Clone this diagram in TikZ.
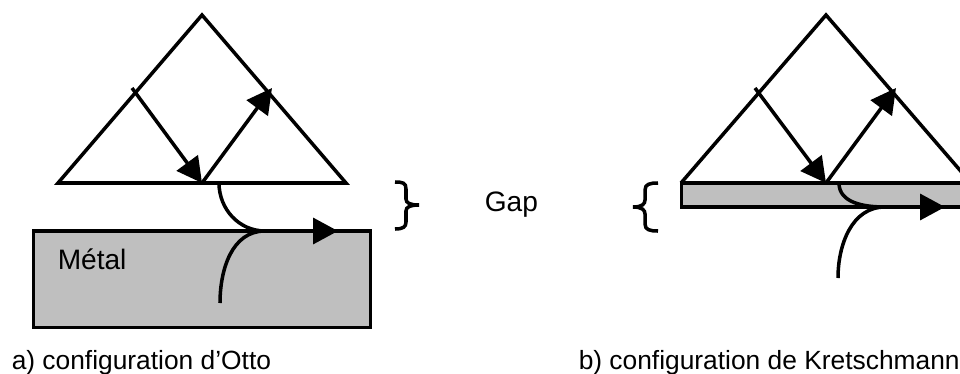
\documentclass[tikz,border=0pt]{standalone}
\usepackage{fontspec}
\setmainfont{Liberation Sans}
\usetikzlibrary{arrows.meta}

\definecolor{metalgray}{RGB}{191,191,191}

\begin{document}
\begin{tikzpicture}[x=0.02cm,y=0.02cm,line width=2pt,
        >={Triangle[length=0.5cm,width=0.52cm]},
        label/.style={anchor=base west,inner sep=0pt,font=\fontsize{16}{19}\selectfont},
        caption/.style={label,font=\fontsize{15}{18}\selectfont},
        layer/.style={draw,fill=metalgray,anchor=north west,inner sep=0pt,outer sep=0pt}]

  \useasboundingbox (0,0) rectangle (960,373);

  % a) Otto
  \coordinate (aleft) at (58,190);
  \coordinate (atop) at (202,358);
  \coordinate (aright) at (346,190);
  \coordinate (ain) at (132,285);
  \coordinate (ahit) at (202,190);
  \coordinate (aout) at (272,285);
  \coordinate (aevan) at (219,190);
  \coordinate (ajoin) at (265,142);
  \coordinate (aend) at (338,142);
  \coordinate (adeep) at (220,70);

  \node[layer,minimum width=0.02cm*337,minimum height=0.02cm*96.5] (ametal) at (33.5,142) {};
  \node[label] (ametaltext) at (56,104) {Métal};
  \node[caption] (acaption) at (10,4) {a) configuration d’Otto};

  \draw (aleft) -- (atop) -- (aright) -- cycle;
  \draw[->] (ain) -- (ahit);
  \draw[->] (ahit) -- (aout);
  \draw (aevan) to[out=270,in=180] (ajoin);
  \draw (adeep) to[out=90,in=180] (ajoin);
  \draw[->] (ajoin) -- (aend);

  % gap brace, right hand
  \draw (395,191) .. controls (403,191) and (406,190) .. (406,184) -- (406,174)
        .. controls (406,170) and (410,168) .. (419,168)
        .. controls (410,168) and (406,166) .. (406,162) -- (406,151)
        .. controls (406,146) and (403,144) .. (395,144);

  \node[label] (gap) at (483,162) {Gap};

  % b) Kretschmann
  \coordinate (bleft) at (681,190);
  \coordinate (btop) at (826,358);
  \coordinate (bright) at (971,190);
  \coordinate (bin) at (755,285);
  \coordinate (bhit) at (826,190);
  \coordinate (bout) at (896,285);
  \coordinate (bevan) at (839,190);
  \coordinate (bjoin) at (885,166);
  \coordinate (bend) at (945,166);
  \coordinate (bdeep) at (838,95);

  \node[layer,minimum width=0.02cm*320,minimum height=0.02cm*24] (bmetal) at (681.5,190) {};
  \node[caption] (bcaption) at (577,4) {b) configuration de Kretschmann};

  \draw (bleft) -- (btop) -- (bright);
  \draw[->] (bin) -- (bhit);
  \draw[->] (bhit) -- (bout);
  \draw (bevan) to[out=270,in=180] (bjoin);
  \draw (bdeep) to[out=90,in=180] (bjoin);
  \draw[->] (bjoin) -- (bend);

  % gap brace, left hand
  \draw (658,190) .. controls (650,190) and (645,189) .. (645,183) -- (645,173)
        .. controls (645,169) and (642,166) .. (633,166)
        .. controls (642,166) and (645,163) .. (645,159) -- (645,149)
        .. controls (645,143) and (650,142) .. (658,142);

\end{tikzpicture}
\end{document}
